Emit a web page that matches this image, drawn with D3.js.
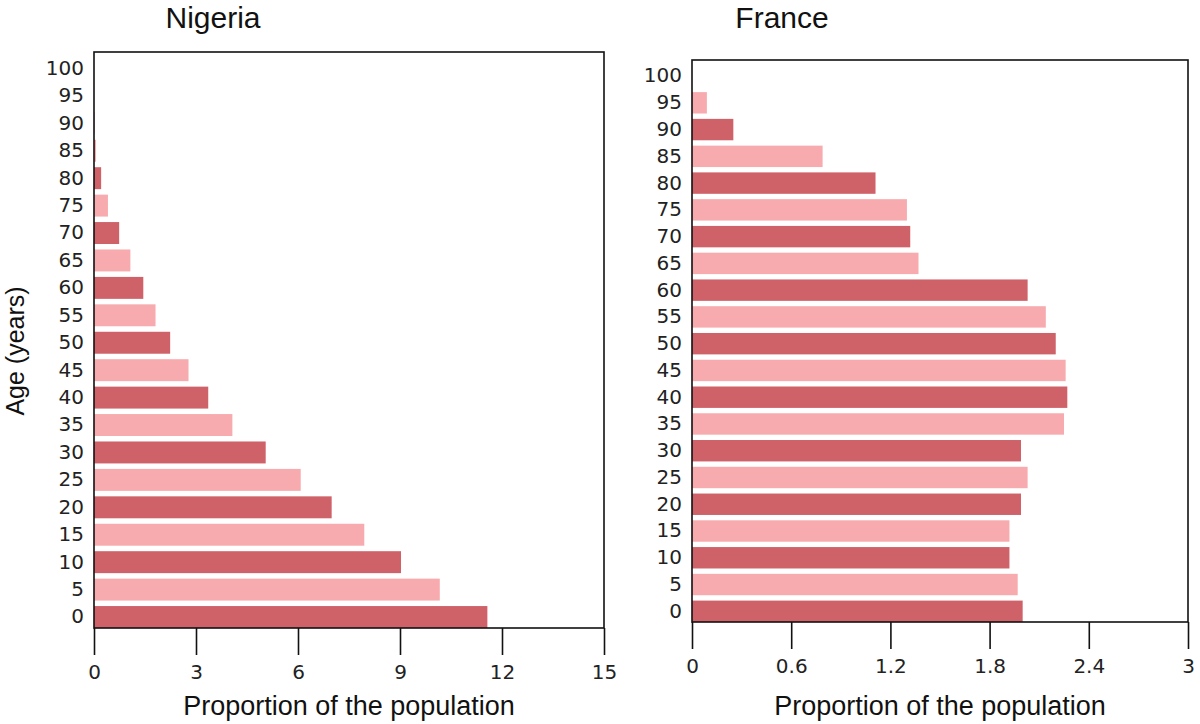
<!DOCTYPE html>
<html>
<head>
<meta charset="utf-8">
<script src="https://cdn.jsdelivr.net/npm/d3@7"></script>
<style>
  html, body { margin: 0; padding: 0; background: #fff; }
  svg { display: block; }
</style>
</head>
<body>
<svg id="chart" width="1200" height="724"></svg>
<script>
// ---- data ----
const ages = [0, 5, 10, 15, 20, 25, 30, 35, 40, 45, 50, 55, 60, 65, 70, 75, 80, 85, 90, 95, 100];
const nigeriaValues = [11.57, 10.17, 9.03, 7.95, 6.99, 6.08, 5.05, 4.07, 3.36, 2.78, 2.24, 1.81, 1.45, 1.07, 0.74, 0.41, 0.21, 0.06, 0.01, 0, 0];
const franceValues = [2.0, 1.97, 1.92, 1.92, 1.99, 2.03, 1.99, 2.25, 2.27, 2.26, 2.2, 2.14, 2.03, 1.37, 1.32, 1.3, 1.11, 0.79, 0.25, 0.09, 0];
const nigeriaTicks = [0, 3, 6, 9, 12, 15];
const franceTicks = [0, 0.6, 1.2, 1.8, 2.4, 3];
const titles = ["Nigeria", "France"];
const xLabel = "Proportion of the population";
const yLabel = "Age (years)";
const barColors = ["#cf6168", "#f8abae"];

// ---- layout ----
const svg = d3.select("#chart");
svg.append("rect").attr("width", 1200).attr("height", 724).attr("fill", "#fff");

const panels = [
  { title: titles[0], values: nigeriaValues, ticks: nigeriaTicks, max: 15,
    x0: 94, x1: 604, y0: 52, y1: 628, titleX: 213 },
  { title: titles[1], values: franceValues, ticks: franceTicks, max: 3,
    x0: 692, x1: 1188, y0: 60, y1: 622, titleX: 782 }
];

const tickFont = "'DejaVu Sans', sans-serif";
const labelFont = "'Liberation Sans', Arial, sans-serif";

panels.forEach((p, pi) => {
  const g = svg.append("g");
  const x = d3.scaleLinear().domain([0, p.max]).range([p.x0, p.x1]);
  const y = d3.scaleBand().domain(ages).range([p.y1, p.y0])
    .paddingInner(0.2).paddingOuter(0.1).align(1);

  g.selectAll("rect.bar").data(ages).enter().append("rect")
    .attr("class", "bar")
    .attr("x", x(0))
    .attr("y", d => y(d))
    .attr("width", (d, i) => x(p.values[i]) - x(0))
    .attr("height", y.bandwidth())
    .attr("fill", (d, i) => barColors[i % 2]);

  // frame
  g.append("rect")
    .attr("x", p.x0).attr("y", p.y0)
    .attr("width", p.x1 - p.x0).attr("height", p.y1 - p.y0)
    .attr("fill", "none").attr("stroke", "#111").attr("stroke-width", 1.6);

  // x axis
  const xa = g.append("g").attr("transform", `translate(0,${p.y1})`)
    .call(d3.axisBottom(x).tickValues(p.ticks).tickSize(27).tickPadding(10)
      .tickFormat(d => String(d)));
  xa.select(".domain").remove();
  xa.selectAll(".tick line").attr("stroke", "#111").attr("stroke-width", 1.6);
  xa.selectAll(".tick text").attr("font-family", tickFont).attr("font-size", 20).attr("fill", "#222");

  // y axis
  const ya = g.append("g").attr("transform", `translate(${p.x0},0)`)
    .call(d3.axisLeft(y).tickSize(0).tickPadding(10));
  ya.select(".domain").remove();
  ya.selectAll(".tick text").attr("font-family", tickFont).attr("font-size", 20).attr("fill", "#222");

  // title
  g.append("text").attr("x", p.titleX).attr("y", 28)
    .attr("text-anchor", "middle").attr("font-family", labelFont)
    .attr("font-size", 30).attr("fill", "#111").text(p.title);

  // x label
  g.append("text").attr("x", (p.x0 + p.x1) / 2).attr("y", 715)
    .attr("text-anchor", "middle").attr("font-family", labelFont)
    .attr("font-size", 27).attr("fill", "#111").text(xLabel);
});

// y label
svg.append("text")
  .attr("transform", "translate(24,351) rotate(-90)")
  .attr("text-anchor", "middle").attr("font-family", labelFont)
  .attr("font-size", 25).attr("fill", "#111").text(yLabel);
</script>
</body>
</html>
